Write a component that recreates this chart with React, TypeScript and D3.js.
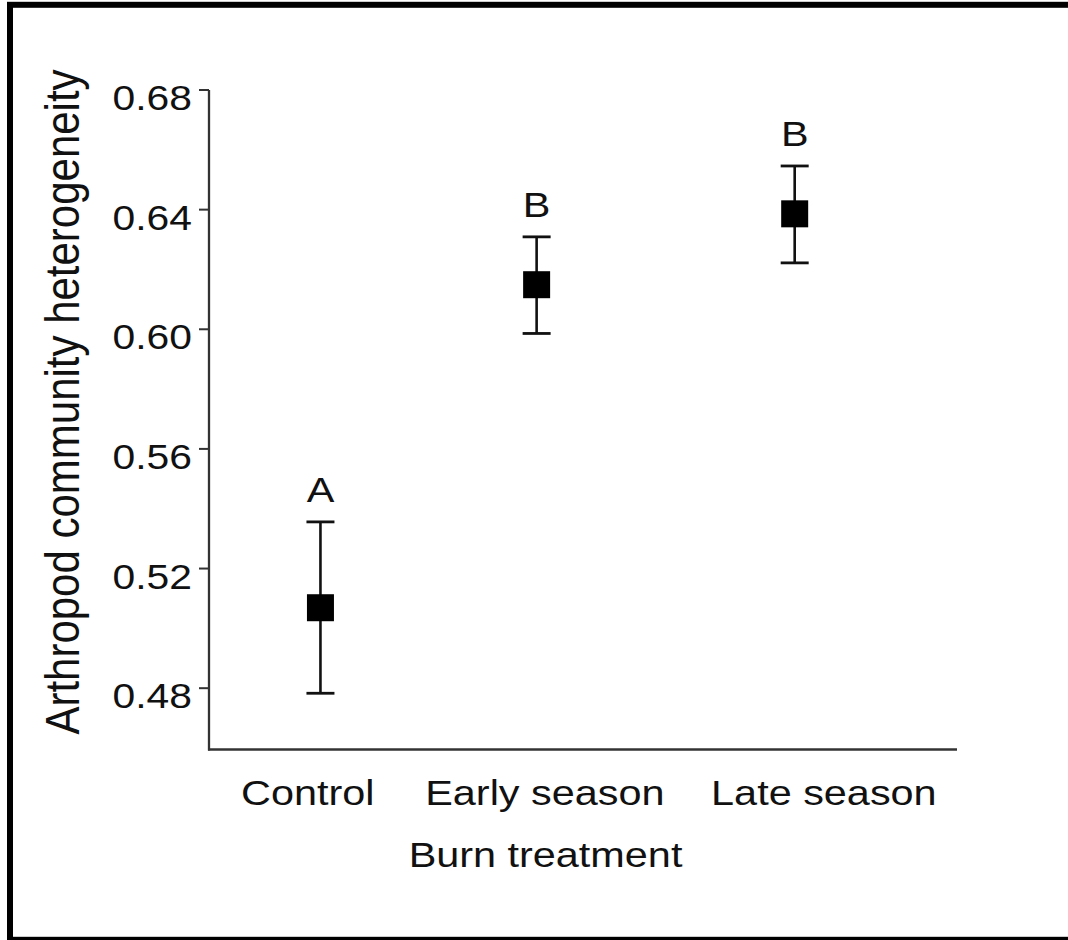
import React from "react";
import * as d3 from "d3";

// ---- data ----
const categories = ["Control", "Early season", "Late season"];
const categoryPos = [0.149, 0.438, 0.783]; // position of each treatment on the x axis (0..1)
const labelPos = [0.132, 0.449, 0.822]; // position of each category label on the x axis (0..1)
const means = [0.5069, 0.6149, 0.6386];
const upper = [0.5356, 0.6309, 0.6546];
const lower = [0.4783, 0.5986, 0.6222];
const groupLetters = ["A", "B", "B"];
const yTicks = [0.48, 0.52, 0.56, 0.6, 0.64, 0.68];
const yTitle = "Arthropod community heterogeneity";
const xTitle = "Burn treatment";

const W = 1068;
const H = 940;
const FONT = "'Liberation Sans', Arial, Helvetica, sans-serif";
const SX = 1.15; // horizontal stretch of the original figure

export default function App() {
  const x = d3.scaleLinear().domain([0, 1]).range([209, 957]);
  const y = d3.scaleLinear().domain([0.46, 0.68]).range([748, 90]);
  const sq = 27;
  const cap = 14;

  const stretched = (tx: number, ty: number, extra = "") =>
    `translate(${tx},${ty}) scale(${SX},1) ${extra}`;

  return (
    <svg
      width={W}
      height={H}
      viewBox={`0 0 ${W} ${H}`}
      style={{ position: "absolute", left: 0, top: 0, display: "block", background: "#fff" }}
    >
      <rect x={0} y={0} width={W} height={H} fill="#fff" />
      {/* frame */}
      <rect x={10} y={4.8} width={1080} height={935} fill="none" stroke="#000" strokeWidth={6} />

      {/* axes */}
      <line x1={x(0)} x2={x(0)} y1={y(0.68)} y2={750.5} stroke="#333" strokeWidth={2.3} />
      <line x1={x(0) - 1} x2={x(1)} y1={749.5} y2={749.5} stroke="#333" strokeWidth={2.3} />
      {yTicks.map((t) => (
        <g key={t}>
          <line x1={x(0) - 10} x2={x(0)} y1={y(t)} y2={y(t)} stroke="#333" strokeWidth={2} />
          <text
            transform={stretched(192, y(t) + 20)}
            textAnchor="end"
            fontFamily={FONT}
            fontSize={35.5}
            fill="#111"
          >
            {t.toFixed(2)}
          </text>
        </g>
      ))}

      {/* y title */}
      <text
        transform={stretched(79, 402, "rotate(-90)")}
        textAnchor="middle"
        fontFamily={FONT}
        fontSize={42}
        fill="#111"
      >
        {yTitle}
      </text>

      {/* category labels */}
      {categories.map((c, i) => (
        <text
          key={c}
          transform={stretched(x(labelPos[i]), 805)}
          textAnchor="middle"
          fontFamily={FONT}
          fontSize={36}
          fill="#111"
        >
          {c}
        </text>
      ))}
      <text
        transform={stretched(545.5, 867)}
        textAnchor="middle"
        fontFamily={FONT}
        fontSize={36}
        fill="#111"
      >
        {xTitle}
      </text>

      {/* error bars + means */}
      {categories.map((c, i) => {
        const cx = x(categoryPos[i]);
        return (
          <g key={c}>
            <line x1={cx} x2={cx} y1={y(upper[i])} y2={y(lower[i])} stroke="#111" strokeWidth={2.6} />
            <line x1={cx - cap} x2={cx + cap} y1={y(upper[i])} y2={y(upper[i])} stroke="#111" strokeWidth={2.8} />
            <line x1={cx - cap} x2={cx + cap} y1={y(lower[i])} y2={y(lower[i])} stroke="#111" strokeWidth={2.8} />
            <rect x={cx - sq / 2} y={y(means[i]) - sq / 2} width={sq} height={sq} fill="#000" />
            <text
              transform={stretched(cx, y(upper[i]) - 20)}
              textAnchor="middle"
              fontFamily={FONT}
              fontSize={36}
              fill="#111"
            >
              {groupLetters[i]}
            </text>
          </g>
        );
      })}
    </svg>
  );
}
